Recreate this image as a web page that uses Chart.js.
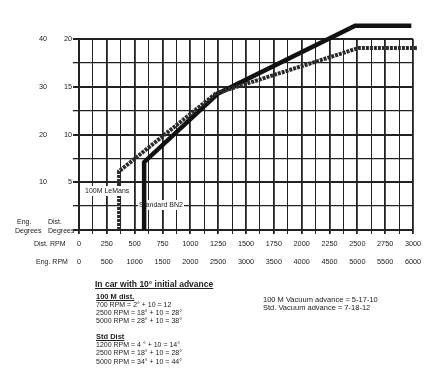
<!DOCTYPE html>
<html>
<head>
<meta charset="utf-8">
<script src="https://cdn.jsdelivr.net/npm/chart.js@4.4.1/dist/chart.umd.min.js"></script>
<style>
    body { margin: 0; background: #fff; font-family: 'Liberation Sans', Arial, sans-serif; color: #222; }
    #wrap { position: relative; width: 432px; height: 369px; overflow: hidden; }
    #advChart { position: absolute; left: 0; top: 0; }
    .n { position: absolute; font-size: 7px; line-height: 8px; white-space: nowrap; }
    .h { font-weight: bold; text-decoration: underline; }
</style>
</head>
<body>
<div id="wrap">
    <canvas id="advChart" width="432" height="369"></canvas>
    <div class="n h" style="left:95px;top:279px;font-size:8.5px;line-height:10px;">In car with 10° initial advance</div>
    <div class="n h" style="left:96px;top:293px;font-size:7.5px;">100 M dist.</div>
    <div class="n" style="left:96px;top:301px;">700 RPM = 2° + 10 = 12</div>
    <div class="n" style="left:96px;top:309px;">2500 RPM = 18° + 10 = 28°</div>
    <div class="n" style="left:96px;top:317px;">5000 RPM = 28° + 10 = 38°</div>
    <div class="n h" style="left:96px;top:333px;font-size:7.5px;">Std Dist</div>
    <div class="n" style="left:96px;top:341px;">1200 RPM = 4 ° + 10 = 14°</div>
    <div class="n" style="left:96px;top:349px;">2500 RPM = 18° + 10 = 28°</div>
    <div class="n" style="left:96px;top:358px;">5000 RPM = 34° + 10 = 44°</div>
    <div class="n" style="left:263px;top:296px;font-size:7.5px;">100 M Vacuum advance = 5-17-10</div>
    <div class="n" style="left:263px;top:304px;font-size:7.5px;">Std. Vacuum advance = 7-18-12</div>
</div>
<script>
// tick labels
const distRpmTicks = [0, 250, 500, 750, 1000, 1250, 1500, 1750, 2000, 2250, 2500, 2750, 3000];
const engRpmTicks = [0, 500, 1000, 1500, 2000, 2500, 3000, 3500, 4000, 4500, 5000, 5500, 6000];
const distDegTicks = [5, 10, 15, 20];
const engDegTicks = [10, 20, 30, 40];

// curves (distributor RPM / distributor degrees)
const lemansRpm = [360, 360, 1230, 2510, 3040];
const lemansDeg = [0, 6.15, 14.3, 19.05, 19.05];
const bn2Rpm = [585, 585, 1250, 2480, 2985];
const bn2Deg = [0, 7.1, 14.3, 21.4, 21.4];

const tickFont = { family: 'Liberation Sans', size: 7.3 };

function toPoints(xs, ys) {
    return xs.map((x, i) => ({ x: x, y: ys[i] }));
}

function label(ctx, text, x, y, bg) {
    ctx.save();
    ctx.font = '7px "Liberation Sans"';
    ctx.textBaseline = 'middle';
    const w = ctx.measureText(text).width;
    if (bg) {
        ctx.fillStyle = '#fff';
        ctx.fillRect(x - 1, y - 5, w + 2, 10);
    }
    ctx.fillStyle = '#222';
    ctx.fillText(text, x, y);
    ctx.restore();
}

const textPlugin = {
    id: 'textPlugin',
    beforeDatasetsDraw(chart) {
        label(chart.ctx, 'Standard BN2', 139, 205, true);
    },
    afterDatasetsDraw(chart) {
        label(chart.ctx, '100M LeMans', 85, 191, true);
    },
    afterDraw(chart) {
        const ctx = chart.ctx;
        label(ctx, 'Eng.', 17, 222);
        label(ctx, 'Degrees', 15, 231);
        label(ctx, 'Dist.', 48, 222);
        label(ctx, 'Degrees', 48, 231);
        label(ctx, 'Dist. RPM', 34, 244);
        label(ctx, 'Eng. RPM', 36, 262);
    }
};

const ctx = document.getElementById('advChart').getContext('2d');
new Chart(ctx, {
    type: 'line',
    data: {
        datasets: [
            {
                label: '100M LeMans',
                data: toPoints(lemansRpm, lemansDeg),
                borderColor: '#2b2b2b',
                borderWidth: 4,
                borderDash: [3, 1],
                pointRadius: 0,
                tension: 0,
                clip: false
            },
            {
                label: 'Standard BN2',
                data: toPoints(bn2Rpm, bn2Deg),
                borderColor: '#111',
                borderWidth: 4.5,
                pointRadius: 0,
                tension: 0,
                clip: false
            }
        ]
    },
    options: {
        responsive: false,
        animation: false,
        layout: { padding: { left: 0, top: 39, right: 19, bottom: 99 } },
        plugins: { legend: { display: false }, tooltip: { enabled: false } },
        scales: {
            x: {
                type: 'linear', position: 'bottom', weight: 0,
                min: 0, max: 3000,
                afterBuildTicks: s => { s.ticks = [];
                    for (let v = 0; v <= 3000; v += 125) s.ticks.push({ value: v }); },
                afterFit: s => { s.height = 20; },
                ticks: {
                    autoSkip: false, maxRotation: 0, padding: 6, color: '#222', font: tickFont,
                    callback: v => distRpmTicks.includes(v) ? String(v) : ''
                },
                grid: {
                    color: '#222', tickLength: 4,
                    lineWidth: c => (c.tick && c.tick.value % 250 === 0) ? 1.8 : 1
                },
                border: { color: '#222', width: 2 }
            },
            x2: {
                type: 'linear', position: 'bottom', weight: 1,
                min: 0, max: 6000,
                afterBuildTicks: s => { s.ticks = engRpmTicks.map(v => ({ value: v })); },
                afterFit: s => { s.height = 20; },
                ticks: {
                    autoSkip: false, maxRotation: 0, padding: 8, color: '#222', font: tickFont,
                    callback: v => String(v)
                },
                grid: { display: false, drawTicks: false },
                border: { display: false }
            },
            y: {
                type: 'linear', position: 'left', weight: 0,
                min: 0, max: 20,
                afterBuildTicks: s => { s.ticks = [];
                    for (let v = 0; v <= 20; v += 2.5) s.ticks.push({ value: v }); },
                afterFit: s => { s.width = 32; },
                ticks: {
                    padding: 1, color: '#222', font: tickFont,
                    callback: v => distDegTicks.includes(v) ? String(v) : ''
                },
                grid: {
                    color: '#222', tickLength: 6,
                    lineWidth: c => (c.tick && c.tick.value % 5 === 0) ? 2 : 1.3
                },
                border: { color: '#222', width: 2 }
            },
            y2: {
                type: 'linear', position: 'left', weight: 1,
                min: 0, max: 40,
                afterBuildTicks: s => { s.ticks = engDegTicks.map(v => ({ value: v })); },
                afterFit: s => { s.width = 47; },
                ticks: { padding: 0, color: '#222', font: tickFont, callback: v => String(v) },
                grid: { display: false, drawTicks: false },
                border: { display: false }
            }
        }
    },
    plugins: [textPlugin]
});
</script>
</body>
</html>
